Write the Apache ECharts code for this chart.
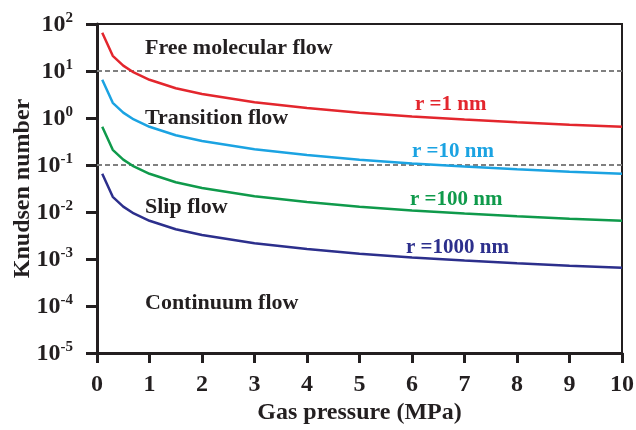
<!DOCTYPE html>
<html><head><meta charset="utf-8">
<script src="https://cdn.jsdelivr.net/npm/echarts@6/dist/echarts.min.js"></script>
<style>html,body{margin:0;padding:0;background:#fff}#c{width:636px;height:430px}</style>
</head><body><div id="c"></div>
<script>
// Gas pressure (MPa)
const pressure = [0.1, 0.3, 0.5, 0.7, 1, 1.5, 2, 3, 4, 5, 6, 7, 8, 9, 10];
// Knudsen number for each pore radius
const kn_r1    = [65, 21, 13, 9.3, 6.5, 4.3, 3.25, 2.17, 1.63, 1.3, 1.08, 0.93, 0.81, 0.72, 0.65];
const kn_r10   = [6.5, 2.1, 1.3, 0.93, 0.65, 0.43, 0.325, 0.217, 0.163, 0.13, 0.108, 0.093, 0.081, 0.072, 0.065];
const kn_r100  = [0.65, 0.21, 0.13, 0.093, 0.065, 0.043, 0.0325, 0.0217, 0.0163, 0.013, 0.0108, 0.0093, 0.0081, 0.0072, 0.0065];
const kn_r1000 = [0.065, 0.021, 0.013, 0.0093, 0.0065, 0.0043, 0.00325, 0.00217, 0.00163, 0.0013, 0.00108, 0.00093, 0.00081, 0.00072, 0.00065];
const seriesNames = ['r =1 nm', 'r =10 nm', 'r =100 nm', 'r =1000 nm'];
const regimeBoundaries = [10, 0.1, 0.001];
const regimeNames = ['Free molecular flow', 'Transition flow', 'Slip flow', 'Continuum flow'];
const xTicks = [0,1,2,3,4,5,6,7,8,9,10];

const colors = ['#e3262d', '#1ba3e2', '#0f9a4b', '#2c2f8c'];
const FONT = '"Liberation Serif", "DejaVu Serif", serif';
const allData = [kn_r1, kn_r10, kn_r100, kn_r1000];

const series = allData.map((d, i) => ({
  name: seriesNames[i],
  type: 'line',
  data: d.map((v, j) => [pressure[j], v]),
  showSymbol: false,
  smooth: false,
  lineStyle: { color: colors[i], width: 2.5 },
  z: 3
}));
series[0].markLine = {
  silent: true,
  symbol: 'none',
  label: { show: false },
  lineStyle: { color: '#808080', type: [5, 3], width: 2 },
  data: regimeBoundaries.map(v => ({ yAxis: v })),
  z: 1
};

const regimeY = [48, 118, 207, 303];
const labelPos = [[415, 105], [412, 152], [410, 200], [406, 248]];
const graphics = [];
regimeNames.forEach((t, i) => graphics.push({
  type: 'text', silent: true,
  style: { x: 145, y: regimeY[i], text: t, font: 'bold 22px ' + FONT, fill: '#231f20', textVerticalAlign: 'middle', verticalAlign: 'middle' }
}));
seriesNames.forEach((t, i) => graphics.push({
  type: 'text', silent: true,
  style: { x: labelPos[i][0], y: labelPos[i][1], text: t, font: 'bold 21px ' + FONT, fill: colors[i], textVerticalAlign: 'middle', verticalAlign: 'middle' }
}));

const chart = echarts.init(document.getElementById('c'), null, { renderer: 'canvas' });
chart.setOption({
  animation: false,
  backgroundColor: '#fff',
  grid: { left: 97, right: 14, top: 24, bottom: 77, containLabel: false, outerBoundsMode: 'none',
    show: true, borderColor: '#231f20', borderWidth: 2 },
  xAxis: {
    type: 'value', min: 0, max: 10, interval: 1,
    name: 'Gas pressure (MPa)', nameLocation: 'middle', nameGap: 48, nameMoveOverlap: false,
    nameTextStyle: { fontFamily: FONT, fontWeight: 'bold', fontSize: 24, color: '#231f20' },
    axisLine: { lineStyle: { color: '#231f20', width: 3 } },
    axisTick: { show: true, inside: false, length: 10, lineStyle: { color: '#231f20', width: 3 } },
    axisLabel: { margin: 20, fontFamily: FONT, fontWeight: 'bold', fontSize: 24, color: '#231f20',
      formatter: v => xTicks.includes(v) ? String(v) : '' },
    splitLine: { show: false }
  },
  yAxis: {
    type: 'log', logBase: 10, min: 1e-5, max: 100,
    name: 'Knudsen number', nameLocation: 'middle', nameGap: 62, nameMoveOverlap: false,
    nameTextStyle: { fontFamily: FONT, fontWeight: 'bold', fontSize: 24, color: '#231f20' },
    axisLine: { lineStyle: { color: '#231f20', width: 3 } },
    axisTick: { show: true, inside: false, length: 11, lineStyle: { color: '#231f20', width: 3 } },
    minorTick: { show: false },
    axisLabel: {
      margin: 24,
      formatter: v => '{b|10}{e|' + Math.round(Math.log10(v)) + '}',
      rich: {
        b: { fontFamily: FONT, fontWeight: 'bold', fontSize: 24, color: '#231f20', lineHeight: 26, verticalAlign: 'bottom' },
        e: { fontFamily: FONT, fontWeight: 'bold', fontSize: 15, color: '#231f20', lineHeight: 26, verticalAlign: 'top' }
      }
    },
    splitLine: { show: false }
  },
  series: series,
  graphic: graphics
});
</script></body></html>
